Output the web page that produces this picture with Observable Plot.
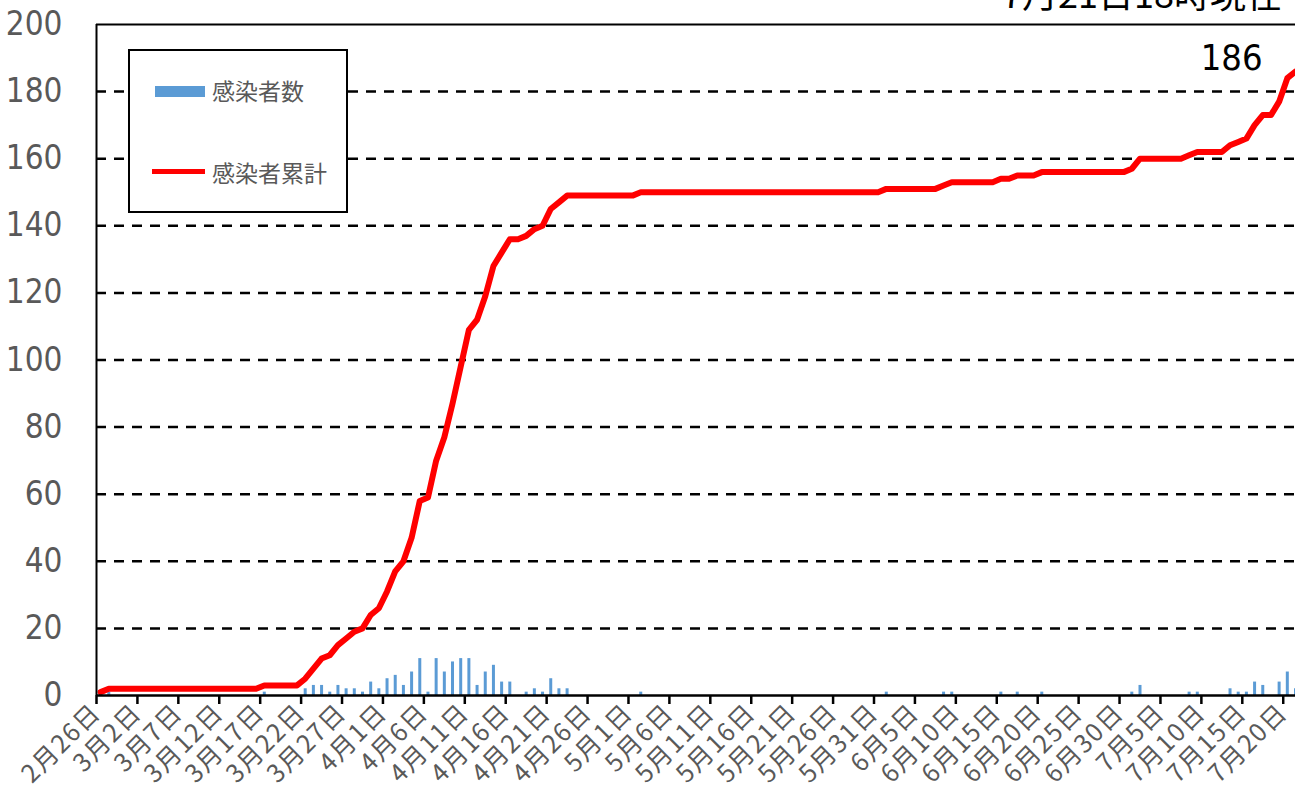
<!DOCTYPE html>
<html>
<head>
<meta charset="utf-8">
<script src="https://cdn.jsdelivr.net/npm/d3@7"></script>
<script src="https://cdn.jsdelivr.net/npm/@observablehq/plot@0.6"></script>
<style>
html, body { margin: 0; padding: 0; background: #fff; overflow: hidden; }
#wrap { position: relative; width: 1295px; height: 789px; overflow: hidden; }
#title { position: absolute; right: 13px; top: -26px; font: 36px/36px "Noto Sans CJK JP", sans-serif; color: #000; white-space: nowrap; }
#legend { position: absolute; left: 128px; top: 49px; width: 220px; height: 164px; box-sizing: border-box; border: 2px solid #000; background: #fff; font-family: "Noto Sans CJK JP", sans-serif; color: #595959; font-size: 23px; }
#legend .sw { position: absolute; }
#legend .lab { position: absolute; line-height: 24px; white-space: nowrap; }
#chart g[aria-label="x-axis tick label"] text { letter-spacing: 1.5px; }
</style>
</head>
<body>
<div id="wrap">
  <div id="chart"></div>
  <div id="title">7月21日18時現在</div>
  <div id="legend">
    <div class="sw" style="left:25px;top:35px;width:50px;height:11px;background:#5B9BD5"></div>
    <div class="lab" style="left:82px;top:27px">感染者数</div>
    <div class="sw" style="left:22px;top:118px;width:53px;height:5px;background:#FF0000"></div>
    <div class="lab" style="left:82px;top:109px">感染者累計</div>
  </div>
</div>
<script>
// Daily new cases (感染者数) by month
const febDaily = [1,1,0,0]; // from Feb 26
const marDaily = [0,0,0,0,0,0,0,0,0,0,0,0,0,0,0,0,1,0,0,0,0,2,3,3,1,3,2,2,1,4,2];
const aprDaily = [5,6,3,7,11,1,11,7,10,11,11,3,7,9,4,4,0,1,2,1,5,2,2,0,0,0,0,0,0,0];
const mayDaily = [0,1,0,0,0,0,0,0,0,0,0,0,0,0,0,0,0,0,0,0,0,0,0,0,0,0,0,0,0,0,0];
const junDaily = [1,0,0,0,0,0,0,1,1,0,0,0,0,0,1,0,1,0,0,1,0,0,0,0,0,0,0,0,0,0];
const julDaily = [1,3,0,0,0,0,0,1,1,0,0,0,2,1,1,4,3,0,4,7,2];

// Cumulative cases (感染者累計) by month
const febTotal = [1,2,2,2];
const marTotal = [2,2,2,2,2,2,2,2,2,2,2,2,2,2,2,2,3,3,3,3,3,5,8,11,12,15,17,19,20,24,26];
const aprTotal = [31,37,40,47,58,59,70,77,87,98,109,112,119,128,132,136,136,137,139,140,145,147,149,149,149,149,149,149,149,149];
const mayTotal = [149,150,150,150,150,150,150,150,150,150,150,150,150,150,150,150,150,150,150,150,150,150,150,150,150,150,150,150,150,150,150];
const junTotal = [151,151,151,151,151,151,151,152,153,153,153,153,153,153,154,154,155,155,155,156,156,156,156,156,156,156,156,156,156,156];
const julTotal = [157,160,160,160,160,160,160,161,162,162,162,162,164,165,166,170,173,173,177,184,186];

const tickLabels = ["2月26日","3月2日","3月7日","3月12日","3月17日","3月22日","3月27日","4月1日","4月6日","4月11日","4月16日","4月21日","4月26日","5月1日","5月6日","5月11日","5月16日","5月21日","5月26日","5月31日","6月5日","6月10日","6月15日","6月20日","6月25日","6月30日","7月5日","7月10日","7月15日","7月20日"];
const yTicks = [0,20,40,60,80,100,120,140,160,180,200];
const gridValues = [20,40,60,80,100,120,140,160,180];

const months = [
  {m: 1, start: 26, daily: febDaily, total: febTotal},
  {m: 2, start: 1, daily: marDaily, total: marTotal},
  {m: 3, start: 1, daily: aprDaily, total: aprTotal},
  {m: 4, start: 1, daily: mayDaily, total: mayTotal},
  {m: 5, start: 1, daily: junDaily, total: junTotal},
  {m: 6, start: 1, daily: julDaily, total: julTotal}
];
const rows = [];
for (const mo of months) {
  mo.daily.forEach((v, i) => {
    rows.push({date: new Date(Date.UTC(2020, mo.m, mo.start + i, 12)), daily: v, total: mo.total[i]});
  });
}
const labelMap = new Map();
const tickDates = tickLabels.map(s => {
  const mm = s.match(/(\d+)月(\d+)日/);
  const d = new Date(Date.UTC(2020, +mm[1] - 1, +mm[2]));
  labelMap.set(+d, s);
  return d;
});
const xStart = tickDates[0];
const xEnd = new Date(Date.UTC(2020, 6, 21, 12));
const last = rows[rows.length - 1];
const narrow = '"Liberation Sans Narrow", "DejaVu Sans Condensed", "Noto Sans", sans-serif';

const chart = Plot.plot({
  width: 1295,
  height: 789,
  marginLeft: 96,
  marginRight: 0,
  marginTop: 24,
  marginBottom: 94,
  x: {type: "utc", domain: [xStart, xEnd]},
  y: {domain: [0, 200]},
  style: {fontFamily: '"Noto Sans CJK JP", sans-serif', background: "#fff"},
  marks: [
    Plot.ruleY(gridValues, {stroke: "#000", strokeWidth: 2.5, strokeDasharray: "10,8"}),
    Plot.ruleY([200], {stroke: "#000", strokeWidth: 2}),
    Plot.ruleX(rows.filter(d => d.daily > 0), {x: "date", y1: 0, y2: "daily", stroke: "#5B9BD5", strokeWidth: 3}),
    Plot.line(rows, {x: "date", y: "total", stroke: "#FF0000", strokeWidth: 6, strokeLinejoin: "round"}),
    Plot.ruleX([xStart], {stroke: "#000", strokeWidth: 2}),
    Plot.ruleY([0], {stroke: "#000", strokeWidth: 2.5}),
    Plot.axisX({ticks: tickDates, tickFormat: d => labelMap.get(+d), tickSize: 9, tickRotate: -45, tickPadding: 4, fontSize: 25, fill: "#595959", stroke: "#000", strokeWidth: 2.5}),
    Plot.axisY({ticks: yTicks, tickSize: 0, tickPadding: 34, fontSize: 33, fill: "#595959", fontFamily: narrow}),
    Plot.text([last], {x: "date", y: "total", text: d => String(d.total), textAnchor: "end", lineAnchor: "middle", dx: -33, dy: -13, fontSize: 36, fill: "#000", fontFamily: narrow})
  ]
});
document.getElementById("chart").appendChild(chart);
</script>
</body>
</html>
